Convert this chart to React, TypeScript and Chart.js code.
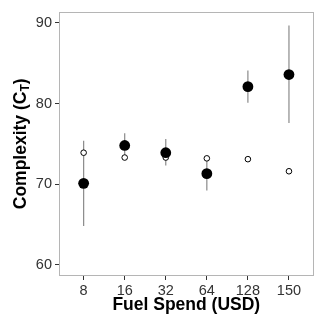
import React, { useEffect, useRef } from "react";
import { Chart, registerables } from "chart.js";
Chart.register(...registerables);

const categories = ["8", "16", "32", "64", "128", "150"];
const meanValues = [70.1, 74.8, 73.9, 71.3, 82.1, 83.6];
const errLow = [64.8, 73.3, 72.3, 69.2, 80.1, 77.6];
const errHigh = [75.4, 76.3, 75.6, 73.4, 84.1, 89.7];
const openValues = [73.9, 73.3, 73.3, 73.2, 73.1, 71.6];
const yTicks = [60, 70, 80, 90];

const FONT = "'Liberation Sans', Arial, Helvetica, sans-serif";

const errorBarPlugin = {
  id: "errorBars",
  beforeDatasetsDraw(chart: any) {
    const { ctx, chartArea, scales } = chart;
    ctx.save();
    ctx.strokeStyle = "#b5b5b5";
    ctx.lineWidth = 1;
    ctx.strokeRect(
      Math.round(chartArea.left) + 0.5,
      Math.round(chartArea.top) + 0.5,
      Math.round(chartArea.right - chartArea.left) - 1,
      Math.round(chartArea.bottom - chartArea.top) - 1
    );
    ctx.strokeStyle = "#8a8a8a";
    ctx.lineWidth = 1.2;
    categories.forEach((_, i) => {
      const x = scales.x.getPixelForValue(i + 1);
      const y1 = scales.y.getPixelForValue(errLow[i]);
      const y2 = scales.y.getPixelForValue(errHigh[i]);
      ctx.beginPath();
      ctx.moveTo(x, y1);
      ctx.lineTo(x, y2);
      ctx.stroke();
    });
    ctx.restore();
  },
};

const yTitlePlugin = {
  id: "yTitle",
  afterDraw(chart: any) {
    const { ctx, chartArea } = chart;
    const cy = (chartArea.top + chartArea.bottom) / 2;
    const big = `bold 17.5px ${FONT}`;
    const small = `bold 12px ${FONT}`;
    const main = "Complexity (C";
    const sub = "T";
    const close = ")";
    ctx.save();
    ctx.font = big;
    const w1 = ctx.measureText(main).width;
    const w3 = ctx.measureText(close).width;
    ctx.font = small;
    const w2 = ctx.measureText(sub).width;
    const total = w1 + w2 + w3;
    ctx.translate(26, cy);
    ctx.rotate(-Math.PI / 2);
    ctx.fillStyle = "#000";
    ctx.textBaseline = "alphabetic";
    ctx.textAlign = "left";
    let x = -total / 2;
    ctx.font = big;
    ctx.fillText(main, x, 0);
    x += w1;
    ctx.font = small;
    ctx.fillText(sub, x, 3);
    x += w2;
    ctx.font = big;
    ctx.fillText(close, x, 0);
    ctx.restore();
  },
};

export default function App() {
  const ref = useRef<HTMLCanvasElement>(null);
  useEffect(() => {
    if (!ref.current) return;
    const chart = new Chart(ref.current, {
      type: "scatter",
      data: {
        datasets: [
          {
            label: "open",
            data: openValues.map((v, i) => ({ x: i + 1, y: v })),
            pointRadius: 2.8,
            pointBackgroundColor: "#ffffff",
            pointBorderColor: "#000000",
            pointBorderWidth: 1,
            order: 2,
          },
          {
            label: "mean",
            data: meanValues.map((v, i) => ({ x: i + 1, y: v })),
            pointRadius: 5.4,
            pointBackgroundColor: "#000000",
            pointBorderColor: "#000000",
            pointBorderWidth: 0,
            order: 1,
          },
        ],
      },
      options: {
        animation: false,
        responsive: false,
        maintainAspectRatio: false,
        layout: { padding: { top: 11, right: 1, left: 0, bottom: 0 } },
        plugins: {
          legend: { display: false },
          tooltip: { enabled: false },
        },
        scales: {
          x: {
            type: "linear",
            min: 0.4,
            max: 6.6,
            afterBuildTicks(scale: any) {
              scale.ticks = categories.map((_, i) => ({ value: i + 1 }));
            },
            afterFit(scale: any) {
              scale.height = 40;
            },
            grid: {
              drawOnChartArea: false,
              drawTicks: true,
              tickLength: 4,
              color: "#333333",
            },
            border: { display: false },
            ticks: {
              padding: 2,
              color: "#333333",
              font: { family: FONT, size: 14.5 },
              maxRotation: 0,
              callback: (v: any) => categories[Math.round(v) - 1] ?? "",
            },
            title: {
              display: true,
              text: "Fuel Spend (USD)",
              color: "#000",
              font: { family: FONT, size: 17.5, weight: "bold" },
              padding: { top: 0, bottom: 0 },
            },
          },
          y: {
            min: 58.6,
            max: 91.4,
            afterBuildTicks(scale: any) {
              scale.ticks = yTicks.map((v) => ({ value: v }));
            },
            afterFit(scale: any) {
              scale.width = 59;
            },
            grid: {
              drawOnChartArea: false,
              drawTicks: true,
              tickLength: 4,
              color: "#333333",
            },
            border: { display: false },
            ticks: {
              padding: 3,
              color: "#333333",
              font: { family: FONT, size: 14.5 },
            },
          },
        },
      },
      plugins: [errorBarPlugin, yTitlePlugin],
    });
    return () => chart.destroy();
  }, []);
  return (
    <div style={{ position: "fixed", left: 0, top: 0, width: 319, height: 316, background: "#fff" }}>
      <canvas ref={ref} width={319} height={316} style={{ display: "block" }} />
    </div>
  );
}
